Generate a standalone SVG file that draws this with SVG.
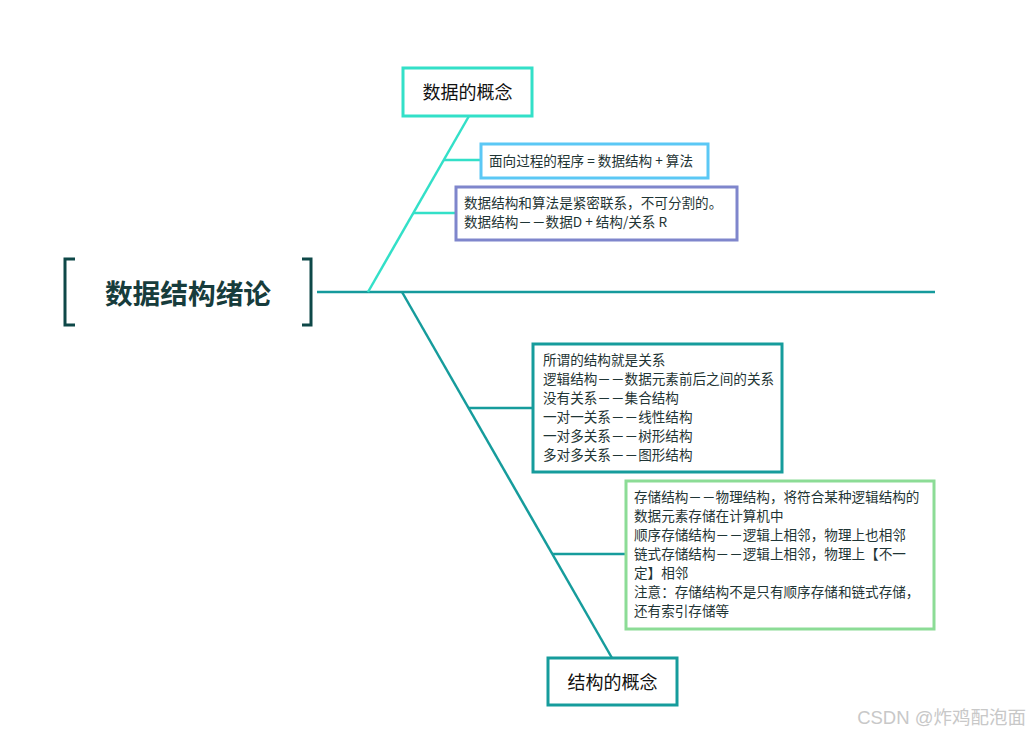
<svg xmlns="http://www.w3.org/2000/svg" width="1030" height="737" viewBox="0 0 1030 737">
<style>
.t{font-family:"Noto Sans CJK SC","Liberation Sans",sans-serif;fill:#1f3535;font-size:13.6px}
.n{font-family:"Noto Sans CJK SC","Liberation Sans",sans-serif;fill:#111;font-size:18px}
.box{fill:#fff;stroke-width:3}
.c{fill:none;stroke-width:2.5}
</style>
<rect width="1030" height="737" fill="#fff"/>
<g id="connectors">
<line class="c" x1="317" y1="292" x2="935" y2="292" stroke="#159a9c"/>
<line class="c" x1="368" y1="292" x2="469" y2="116" stroke="#33e0c8"/>
<line class="c" x1="444" y1="160" x2="481" y2="160" stroke="#33e0c8"/>
<line class="c" x1="413" y1="213" x2="456" y2="213" stroke="#33e0c8"/>
<line class="c" x1="402" y1="292" x2="612" y2="658" stroke="#169c9c"/>
<line class="c" x1="469" y1="408" x2="533" y2="408" stroke="#169c9c"/>
<line class="c" x1="552" y1="554" x2="626" y2="554" stroke="#169c9c"/>
</g>
<g id="root">
<path d="M75,259 H65 V325 H75 M302,259 H311 V325 H302" fill="none" stroke="#0e4848" stroke-width="3"/>
<text x="188" y="304" text-anchor="middle" font-family="Noto Sans CJK SC,Liberation Sans,sans-serif" font-weight="bold" font-size="27.7" fill="#173c3c">数据结构绪论</text>
</g>
<g id="node-data">
<rect class="box" x="403" y="68" width="129" height="48" stroke="#33e0c8"/>
<text class="n" x="467.5" y="99" text-anchor="middle">数据的概念</text>
</g>
<g id="node-program">
<rect class="box" x="481" y="144" width="227" height="34" stroke="#5bc8f5"/>
<text class="t" x="489" y="166">面向过程的程序 = 数据结构 + 算法</text>
</g>
<g id="node-relation">
<rect class="box" x="456" y="187" width="281" height="53" stroke="#7f86cc"/>
<text class="t" x="464" y="208">数据结构和算法是紧密联系，不可分割的。</text>
<text class="t" x="464" y="227">数据结构－－数据D + 结构/关系 R</text>
</g>
<g id="node-logic">
<rect class="box" x="533" y="344" width="249" height="128" stroke="#169c9c"/>
<text class="t" x="543" y="365">所谓的结构就是关系</text>
<text class="t" x="543" y="384">逻辑结构－－数据元素前后之间的关系</text>
<text class="t" x="543" y="403">没有关系－－集合结构</text>
<text class="t" x="543" y="422">一对一关系－－线性结构</text>
<text class="t" x="543" y="441">一对多关系－－树形结构</text>
<text class="t" x="543" y="460">多对多关系－－图形结构</text>
</g>
<g id="node-storage">
<rect class="box" x="626" y="481" width="308" height="148" stroke="#8cdc96"/>
<text class="t" x="634" y="502">存储结构－－物理结构，将符合某种逻辑结构的</text>
<text class="t" x="634" y="521">数据元素存储在计算机中</text>
<text class="t" x="634" y="540">顺序存储结构－－逻辑上相邻，物理上也相邻</text>
<text class="t" x="634" y="559">链式存储结构－－逻辑上相邻，物理上【不一</text>
<text class="t" x="634" y="578">定】相邻</text>
<text class="t" x="634" y="597">注意：存储结构不是只有顺序存储和链式存储，</text>
<text class="t" x="634" y="616">还有索引存储等</text>
</g>
<g id="node-struct">
<rect class="box" x="548" y="658" width="129" height="47" stroke="#169c9c"/>
<text class="n" x="612.5" y="689" text-anchor="middle">结构的概念</text>
</g>
<text x="1026" y="724" text-anchor="end" font-family="Liberation Sans,Noto Sans CJK SC,sans-serif" font-size="18.5" fill="#c8c8c8">CSDN @炸鸡配泡面</text>
</svg>
